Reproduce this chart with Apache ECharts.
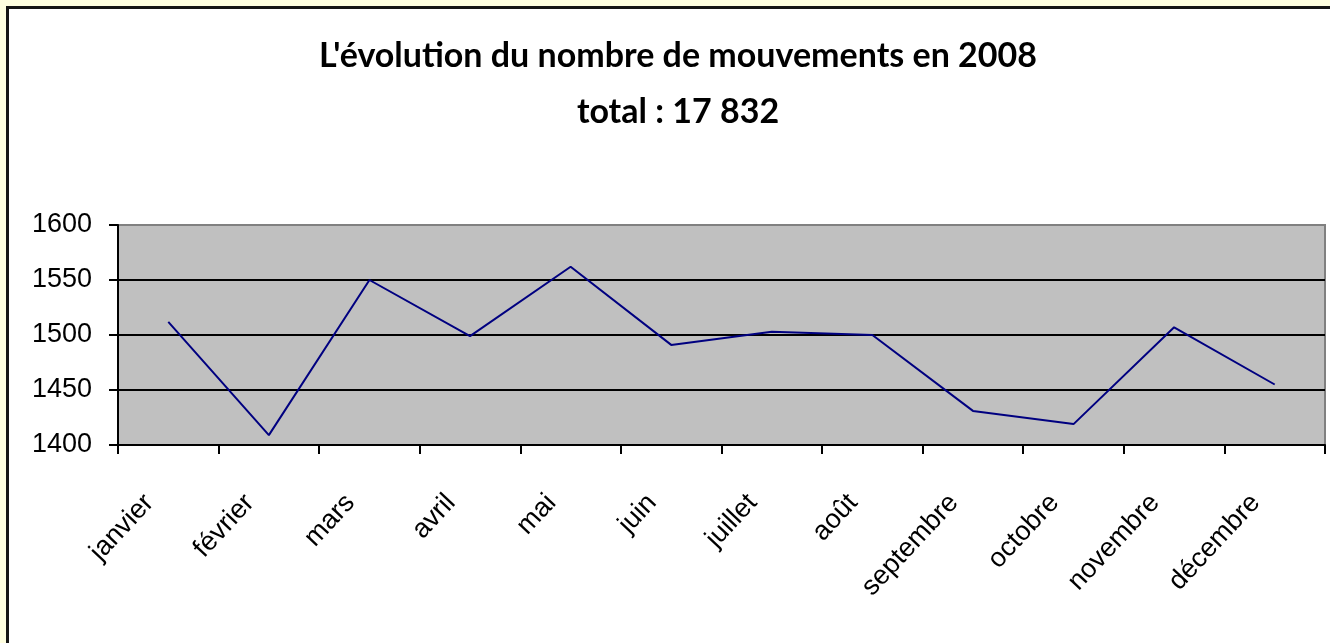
<!DOCTYPE html>
<html>
<head>
<meta charset="utf-8">
<script src="https://cdn.jsdelivr.net/npm/echarts@6/dist/echarts.min.js"></script>
<style>
  html, body { margin: 0; padding: 0; background: #FFFFE0; }
  #frame {
    position: absolute; left: 6px; top: 6px; width: 1330px; height: 643px;
    background: #fff; border-left: 3px solid #151515; border-top: 3px solid #151515;
  }
  #chart { position: absolute; left: 0; top: 0; width: 1330px; height: 643px; }
</style>
</head>
<body>
<div id="frame"></div>
<div id="chart"></div>
<script>
// données
const months = ['janvier', 'février', 'mars', 'avril', 'mai', 'juin',
  'juillet', 'août', 'septembre', 'octobre', 'novembre', 'décembre']
const mouvements = [1512, 1409, 1550, 1499, 1562, 1491, 1503, 1500, 1431, 1419, 1507, 1455]
const titleLines = ["L'évolution du nombre de mouvements en 2008", 'total : 17 832']

const chart = echarts.init(document.getElementById('chart'))

const option = {
  animation: false,
  backgroundColor: 'transparent',
  title: {
    text: titleLines.join('\n'),
    left: 673,
    textAlign: 'center',
    top: 23,
    textStyle: {
      fontFamily: 'Lato',
      fontWeight: 'bold',
      fontSize: 34,
      lineHeight: 56,
      color: '#000'
    }
  },
  grid: {
    left: 118, right: 5, top: 225, bottom: 198,
    show: true,
    backgroundColor: '#C0C0C0',
    borderColor: '#808080',
    borderWidth: 2
  },
  xAxis: {
    type: 'category',
    data: months,
    boundaryGap: true,
    axisLine: { lineStyle: { color: '#000', width: 2 } },
    axisTick: { show: true, interval: 0, length: 9, lineStyle: { color: '#000', width: 2 } },
    axisLabel: {
      interval: 0,
      rotate: 47,
      margin: 33,
      padding: [0, 28, 0, 0],
      fontFamily: 'Liberation Sans',
      fontSize: 27,
      color: '#000'
    }
  },
  yAxis: {
    type: 'value',
    min: 1400,
    max: 1600,
    interval: 50,
    axisLine: { show: true, lineStyle: { color: '#000', width: 2 } },
    axisTick: { show: true, length: 9, lineStyle: { color: '#000', width: 2 } },
    axisLabel: {
      margin: 26,
      formatter: v => String(v),
      fontFamily: 'Liberation Sans',
      fontSize: 27,
      color: '#000'
    },
    splitLine: {
      lineStyle: { color: ['#000', '#000', '#000', '#000', '#808080'], width: 2 }
    }
  },
  series: [
    {
      type: 'line',
      data: mouvements,
      showSymbol: false,
      symbol: 'none',
      lineStyle: { color: '#000080', width: 2 }
    }
  ]
}

chart.setOption(option)
</script>
</body>
</html>
